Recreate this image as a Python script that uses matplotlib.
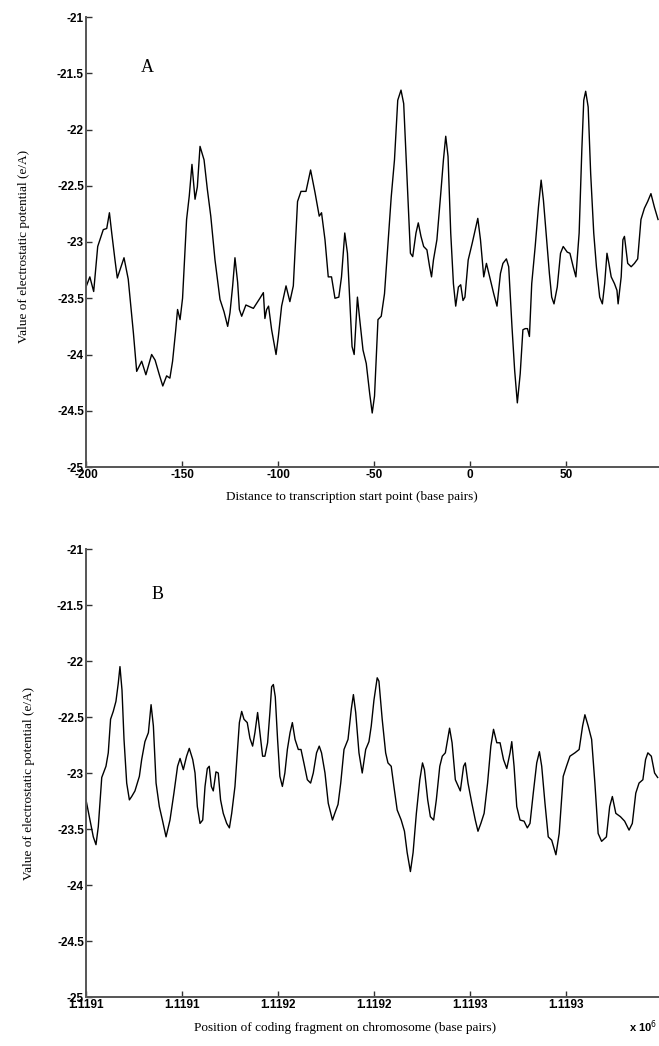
import matplotlib
matplotlib.use('Agg')
import matplotlib.pyplot as plt

# panel A: distance to TSS (bp) vs potential
top_x = [-200, -198, -196, -193.9, -191, -189.2, -187.8, -186.6, -184.9, -183.7, -180.2, -178,
         -175.3, -173.6, -171, -168.8, -165.8, -164, -161.8, -160, -158, -156.3, -154.9, -153.3,
         -152.3, -151, -149.7, -147.6, -146.2, -144.8, -143.2, -142, -140.6, -138.5, -136.8, -135,
         -132.8, -130.2, -128.1, -126.2, -125, -123.6, -122.4, -121, -120.1, -118.9, -116.7, -112.8,
         -109.4, -107.6, -106.8, -105.9, -104.9, -103.3, -101, -99.8, -98.1, -95.8, -93.8, -92,
         -89.8, -88, -85.4, -83, -80.7, -78.5, -77.3, -75.5, -73.8, -72.1, -70.3, -68.3, -66.9,
         -65.2, -63.8, -62.6, -61.4, -60.3, -58.6, -57.4, -55.7, -54, -52.2, -50.9, -49.7, -47.9,
         -46.2, -44.5, -42.8, -41, -39.3, -37.6, -35.9, -34.5, -32.8, -31, -29.8, -28.1, -26.9,
         -25.5, -24.1, -22.4, -21, -20, -19, -17.2, -15.2, -13.8, -12.6, -11.4, -10, -8.6, -7.4,
         -6, -4.8, -3.6, -2.6, -0.9, 1.2, 2.4, 4.1, 5.5, 7.2, 8.6, 10.3, 12.4, 14.1, 15.9, 17.2,
         19, 20.2, 21.9, 23.3, 24.7, 26.2, 27.6, 28.8, 30, 31, 32.2, 34, 35.7, 37.1, 38.3, 39.7,
         41.4, 42.6, 43.8, 45.5, 47.2, 48.6, 50.7, 52.1, 53.8, 55.2, 56.9, 58.3, 59.3, 60.3, 61.6,
         62.9, 64.5, 65.9, 67.6, 69, 70.2, 71.4, 72.4, 73.6, 75.3, 76.6, 77.2, 78.8, 79.7, 80.5,
         82.2, 84, 85.7, 87.4, 89.1, 90.9, 92.6, 94.3, 96.1, 98]
top_y = [-23.40, -23.31, -23.44, -23.04, -22.89, -22.88, -22.74, -22.92, -23.16, -23.32, -23.14, -23.33,
         -23.81, -24.15, -24.06, -24.18, -24.00, -24.05, -24.18, -24.28, -24.19, -24.21, -24.06, -23.79,
         -23.60, -23.69, -23.50, -22.80, -22.59, -22.31, -22.62, -22.51, -22.15, -22.27, -22.53, -22.77,
         -23.16, -23.51, -23.62, -23.75, -23.63, -23.39, -23.14, -23.36, -23.60, -23.66, -23.56, -23.59,
         -23.50, -23.45, -23.68, -23.60, -23.57, -23.78, -24.00, -23.84, -23.57, -23.39, -23.53, -23.39,
         -22.64, -22.55, -22.55, -22.36, -22.56, -22.77, -22.74, -22.98, -23.31, -23.31, -23.50, -23.49,
         -23.31, -22.92, -23.10, -23.52, -23.93, -24.00, -23.49, -23.69, -23.96, -24.08, -24.35, -24.52,
         -24.37, -23.69, -23.66, -23.46, -23.04, -22.60, -22.27, -21.74, -21.65, -21.77, -22.42, -23.10,
         -23.13, -22.92, -22.83, -22.95, -23.04, -23.07, -23.22, -23.31, -23.16, -22.98, -22.57, -22.27,
         -22.06, -22.24, -22.92, -23.37, -23.57, -23.40, -23.38, -23.52, -23.49, -23.16, -23.01, -22.92,
         -22.79, -22.98, -23.31, -23.19, -23.31, -23.46, -23.57, -23.28, -23.19, -23.15, -23.22, -23.75,
         -24.14, -24.43, -24.17, -23.78, -23.77, -23.77, -23.84, -23.37, -23.04, -22.69, -22.45, -22.63,
         -22.92, -23.28, -23.49, -23.55, -23.40, -23.10, -23.04, -23.09, -23.10, -23.22, -23.31, -22.92,
         -22.18, -21.74, -21.66, -21.80, -22.39, -22.92, -23.22, -23.49, -23.55, -23.37, -23.10, -23.19,
         -23.31, -23.37, -23.43, -23.55, -23.31, -22.98, -22.95, -23.19, -23.22, -23.19, -23.15, -22.80,
         -22.70, -22.64, -22.57, -22.69, -22.80]

# panel B: offset (bp) from 1119050 on chromosome vs potential
bot_start = 1119050
bot_offset = [0, 2.1, 3.8, 5.2, 6.4, 8.2, 10.4, 11.6, 12.8, 14.2, 15.6, 16.8, 17.7, 18.75, 19.8, 21.2,
              22.6, 23.8, 25.5, 27.8, 29, 30.7, 32.5, 33.9, 35.1, 36.5, 38.2, 39.8, 41.7, 43.75, 45.8,
              47.7, 49, 50.7, 52.4, 53.8, 55.6, 56.8, 58, 59.4, 60.8, 62, 63.2, 64.2, 65.3, 66.3, 67.7,
              68.9, 70.1, 71.5, 73.3, 74.7, 75.9, 77.6, 78.8, 79.9, 81.1, 82.3, 84, 85.4, 86.8, 88, 89.4,
              90.6, 92, 93.2, 94.6, 95.8, 96.7, 97.6, 98.6, 99.8, 101, 102.3, 103.6, 104.9, 106.3, 107.5,
              108.9, 110.6, 112, 113.5, 115.3, 117, 118.4, 120.1, 121.5, 122.7, 124.5, 126.2, 128.4,
              129.6, 131.3, 132.7, 134.4, 136.5, 138.2, 139.3, 140.5, 142.2, 143.9, 145.7, 147.4, 148.6,
              150, 151.7, 152.6, 154.3, 156.1, 157.3, 159, 160.4, 162.1, 164.2, 165.9, 167.3, 169, 170.4,
              172.1, 173.9, 175.3, 176.3, 178, 179.4, 181.1, 182.5, 184.3, 185.6, 187.2, 188.4, 189.4,
              190.7, 192.4, 195, 196.7, 197.6, 199, 201, 202.8, 204.2, 205.7, 207.4, 209.2, 210.9, 212.3,
              214, 215.7, 217.5, 219.2, 220.9, 221.8, 223, 224.4, 226.1, 228.2, 229.9, 231.3, 233, 234.8,
              236.2, 237.4, 239.1, 240.8, 242.6, 244.8, 246.5, 248.6, 250.3, 252.1, 254.7, 256.9, 258.7,
              259.9, 261.6, 263.4, 265.1, 266.8, 268.6, 271.1, 272.8, 274.2, 276, 278.4, 280.6, 282.9,
              284.6, 286.4, 288.1, 290.1, 291.5, 292.7, 294.5, 296.2, 297.8]
bot_y = [-23.24, -23.42, -23.57, -23.64, -23.48, -23.04, -22.94, -22.82, -22.52, -22.45, -22.36, -22.20,
         -22.05, -22.26, -22.70, -23.09, -23.24, -23.21, -23.16, -23.03, -22.88, -22.72, -22.64, -22.39,
         -22.58, -23.09, -23.30, -23.42, -23.57, -23.42, -23.18, -22.94, -22.87, -22.97, -22.85, -22.78,
         -22.88, -23.00, -23.30, -23.45, -23.42, -23.12, -22.96, -22.94, -23.12, -23.16, -22.99, -23.00,
         -23.24, -23.36, -23.45, -23.49, -23.36, -23.12, -22.82, -22.55, -22.45, -22.52, -22.55, -22.69,
         -22.76, -22.64, -22.46, -22.64, -22.85, -22.85, -22.73, -22.46, -22.23, -22.21, -22.32, -22.70,
         -23.03, -23.12, -23.00, -22.79, -22.64, -22.55, -22.70, -22.79, -22.79, -22.91, -23.06, -23.09,
         -23.00, -22.82, -22.76, -22.82, -23.00, -23.27, -23.42, -23.36, -23.28, -23.09, -22.79, -22.70,
         -22.43, -22.30, -22.46, -22.82, -23.00, -22.79, -22.72, -22.58, -22.35, -22.15, -22.18, -22.52,
         -22.82, -22.91, -22.94, -23.12, -23.33, -23.42, -23.52, -23.71, -23.88, -23.71, -23.36, -23.06,
         -22.91, -22.97, -23.24, -23.39, -23.42, -23.24, -22.94, -22.85, -22.82, -22.70, -22.60, -22.73,
         -23.06, -23.16, -22.94, -22.91, -23.09, -23.27, -23.42, -23.52, -23.45, -23.36, -23.09, -22.76,
         -22.61, -22.73, -22.73, -22.88, -22.96, -22.82, -22.72, -22.94, -23.30, -23.42, -23.43, -23.49,
         -23.45, -23.18, -22.91, -22.81, -22.94, -23.27, -23.57, -23.60, -23.73, -23.54, -23.03, -22.94,
         -22.85, -22.82, -22.79, -22.58, -22.48, -22.58, -22.70, -23.09, -23.54, -23.61, -23.57, -23.30,
         -23.21, -23.36, -23.39, -23.43, -23.51, -23.45, -23.18, -23.09, -23.06, -22.88, -22.82, -22.85,
         -23.00, -23.04]

y_ticks = [-25, -24.5, -24, -23.5, -23, -22.5, -22, -21.5, -21]
y_ticklabels = ['-25', '-24.5', '-24', '-23.5', '-23', '-22.5', '-22', '-21.5', '-21']
top_xticks = [-200, -150, -100, -50, 0, 50]
top_xticklabels = ['-200', '-150', '-100', '-50', '0', '50']
bot_xticks = [1119050, 1119100, 1119150, 1119200, 1119250, 1119300]
bot_xticklabels = ['1.1191', '1.1191', '1.1192', '1.1192', '1.1193', '1.1193']

tick_font = dict(family='Liberation Sans', size=8.5, weight='bold')
label_font = dict(family='Liberation Serif', size=9.5)

W, H = 659, 1046
fig = plt.figure(figsize=(W / 100, H / 100), dpi=100)
ax_a = fig.add_axes([86 / W, 1 - 467 / H, (W - 86) / W, 450 / H])
ax_b = fig.add_axes([86 / W, 1 - 997 / H, (W - 86) / W, 448 / H])

bot_x = [bot_start + o for o in bot_offset]

for ax, xs, ys, xt, xtl in [(ax_a, top_x, top_y, top_xticks, top_xticklabels),
                            (ax_b, bot_x, bot_y, bot_xticks, bot_xticklabels)]:
    ax.plot(xs, ys, color='black', linewidth=1.0)
    ax.set_ylim(-25, -21)
    ax.set_yticks(y_ticks)
    ax.set_yticklabels(y_ticklabels, fontdict=tick_font)
    ax.set_xticks(xt)
    ax.set_xticklabels(xtl, fontdict=tick_font)
    for side in ['top', 'right']:
        ax.spines[side].set_visible(False)
    for side in ['left', 'bottom']:
        ax.spines[side].set_color('#555555')
        ax.spines[side].set_linewidth(1.4)
    ax.tick_params(direction='in', length=4, width=1, color='#333333', pad=1.5)

ax_a.set_xlim(-200, 98.5)
ax_b.set_xlim(bot_start, bot_start + 298.5)

ax_a.text(-168, -21.45, 'A', fontsize=13, family='Liberation Serif', ha='center', va='center')
ax_b.text(bot_start + 37.5, -21.41, 'B', fontsize=13, family='Liberation Serif', ha='center', va='center')

fig.text(352 / W, 1 - 497 / H, 'Distance to transcription start point (base pairs)',
         ha='center', va='center', **label_font)
fig.text(345 / W, 1 - 1028 / H, 'Position of coding fragment on chromosome (base pairs)',
         ha='center', va='center', **label_font)
fig.text(657 / W, 1 - 1027 / H, r'x 10$^6$', ha='right', va='center',
         family='Liberation Sans', size=8, weight='bold')
fig.text(24 / W, 1 - 246 / H, 'Value of electrostatic potential (e/A)', rotation=90,
         ha='center', va='center', **label_font)
fig.text(29 / W, 1 - 783 / H, 'Value of electrostatic potential (e/A)', rotation=90,
         ha='center', va='center', **label_font)

fig.savefig('out.png', dpi=100)
